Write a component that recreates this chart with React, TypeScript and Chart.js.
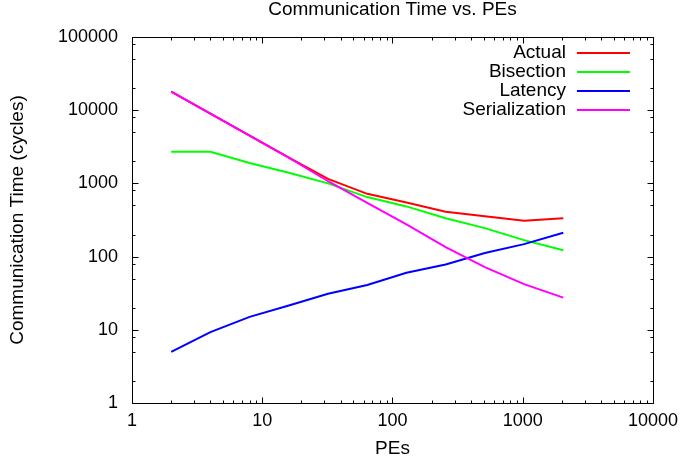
import React, { useEffect, useRef } from "react";
import { Chart, registerables } from "chart.js";

Chart.register(...registerables);

const FONT = "'Liberation Sans', Arial, Helvetica, sans-serif";

const PEs = [2, 4, 8, 16, 32, 64, 128, 256, 512, 1024, 2048];
const actual = [18000, 9000, 4500, 2250, 1150, 720, 550, 410, 355, 310, 335];
const bisection = [2700, 2700, 1900, 1400, 1000, 650, 485, 335, 245, 168, 122];
const latency = [5, 9.3, 15, 21.5, 31, 41, 60, 78, 112, 148, 212];
const serialization = [18000, 9000, 4500, 2250, 1070, 540, 275, 135, 72, 42, 27.5];

const xTicks = [1, 10, 100, 1000, 10000];
const yTicks = [1, 10, 100, 1000, 10000, 100000];
const xMinor = [2, 3, 4, 5, 6, 7, 8, 9];
const yMinor = [2, 5, 8];

const seriesNames = ["Actual", "Bisection", "Latency", "Serialization"];
const seriesColors = ["#ff0000", "#00ff00", "#0000ff", "#ff00ff"];
const seriesData = [actual, bisection, latency, serialization];

const framePlugin = {
  id: "gnuFrame",
  afterDatasetsDraw(chart: any) {
    const ctx = chart.ctx;
    const { left, right, top, bottom } = chart.chartArea;
    const xs = chart.scales.x;
    const ys = chart.scales.y;
    ctx.save();
    ctx.strokeStyle = "#000";
    ctx.lineWidth = 1;
    ctx.beginPath();
    const L = Math.round(left) + 0.5;
    const R = Math.round(right) + 0.5;
    const T = Math.round(top) + 0.5;
    const B = Math.round(bottom) + 0.5;
    ctx.rect(L, T, R - L, B - T);
    for (let d = 0; d < xTicks.length; d++) {
      const base = xTicks[d];
      const px = Math.round(xs.getPixelForValue(base)) + 0.5;
      ctx.moveTo(px, B); ctx.lineTo(px, B - 6);
      ctx.moveTo(px, T); ctx.lineTo(px, T + 6);
      if (d < xTicks.length - 1) {
        for (const m of xMinor) {
          const p = Math.round(xs.getPixelForValue(base * m)) + 0.5;
          ctx.moveTo(p, B); ctx.lineTo(p, B - 3);
          ctx.moveTo(p, T); ctx.lineTo(p, T + 3);
        }
      }
    }
    for (let d = 0; d < yTicks.length; d++) {
      const base = yTicks[d];
      const py = Math.round(ys.getPixelForValue(base)) + 0.5;
      ctx.moveTo(L, py); ctx.lineTo(L + 6, py);
      ctx.moveTo(R, py); ctx.lineTo(R - 6, py);
      if (d < yTicks.length - 1) {
        for (const m of yMinor) {
          const p = Math.round(ys.getPixelForValue(base * m)) + 0.5;
          ctx.moveTo(L, p); ctx.lineTo(L + 3, p);
          ctx.moveTo(R, p); ctx.lineTo(R - 3, p);
        }
      }
    }
    ctx.stroke();

    ctx.font = `19px ${FONT}`;
    ctx.textAlign = "right";
    ctx.textBaseline = "middle";
    ctx.lineWidth = 2;
    for (let i = 0; i < seriesNames.length; i++) {
      const cy = top + 16 + i * 18.9;
      ctx.fillStyle = "#000";
      ctx.fillText(seriesNames[i], right - 87, cy);
      ctx.strokeStyle = seriesColors[i];
      ctx.beginPath();
      ctx.moveTo(right - 76, Math.round(cy));
      ctx.lineTo(right - 23, Math.round(cy));
      ctx.stroke();
    }
    ctx.restore();
  },
};

export default function App() {
  const ref = useRef<HTMLCanvasElement | null>(null);

  useEffect(() => {
    if (!ref.current) return;
    const chart = new Chart(ref.current, {
      type: "line",
      data: {
        datasets: seriesNames.map((name, i) => ({
          label: name,
          data: PEs.map((x, j) => ({ x, y: seriesData[i][j] })),
          borderColor: seriesColors[i],
          backgroundColor: seriesColors[i],
          borderWidth: 2,
          pointRadius: 0,
          tension: 0,
          fill: false,
          order: seriesNames.length - 1 - i,
        })),
      },
      options: {
        animation: false,
        responsive: false,
        devicePixelRatio: 1,
        layout: { padding: { left: 0, right: 31, top: 0, bottom: 3 } },
        plugins: {
          legend: { display: false },
          tooltip: { enabled: false },
          title: {
            display: true,
            text: "Communication Time vs. PEs",
            color: "#000",
            fullSize: false,
            font: { family: FONT, size: 19, weight: "normal" },
            padding: { top: -1.5, bottom: 15.7 },
          },
        },
        scales: {
          x: {
            type: "logarithmic",
            min: 1,
            max: 10000,
            grid: { display: false, drawTicks: false },
            border: { display: false },
            afterBuildTicks: (s: any) => {
              s.ticks = xTicks.map((v) => ({ value: v }));
            },
            afterFit: (s: any) => {
              s.height = 57;
            },
            ticks: {
              color: "#000",
              padding: 7,
              maxRotation: 0,
              autoSkip: false,
              font: { family: FONT, size: 18 },
              callback: (v: any) => String(v),
            },
            title: {
              display: true,
              text: "PEs",
              color: "#000",
              font: { family: FONT, size: 19 },
              padding: { top: 0, bottom: 0 },
            },
          },
          y: {
            type: "logarithmic",
            min: 1,
            max: 100000,
            grid: { display: false, drawTicks: false },
            border: { display: false },
            afterBuildTicks: (s: any) => {
              s.ticks = yTicks.map((v) => ({ value: v }));
            },
            afterFit: (s: any) => {
              s.width = 132;
            },
            ticks: {
              color: "#000",
              padding: 14,
              autoSkip: false,
              font: { family: FONT, size: 18 },
              callback: (v: any) => String(v),
            },
            title: {
              display: true,
              text: "Communication Time (cycles)",
              color: "#000",
              font: { family: FONT, size: 19 },
              padding: { top: 6.5, bottom: 0 },
            },
          },
        },
      },
      plugins: [framePlugin],
    } as any);
    return () => chart.destroy();
  }, []);

  return (
    <div style={{ position: "fixed", left: 0, top: 0, width: 685, height: 463, background: "#fff" }}>
      <canvas ref={ref} width={685} height={463} style={{ width: 685, height: 463 }} />
    </div>
  );
}
